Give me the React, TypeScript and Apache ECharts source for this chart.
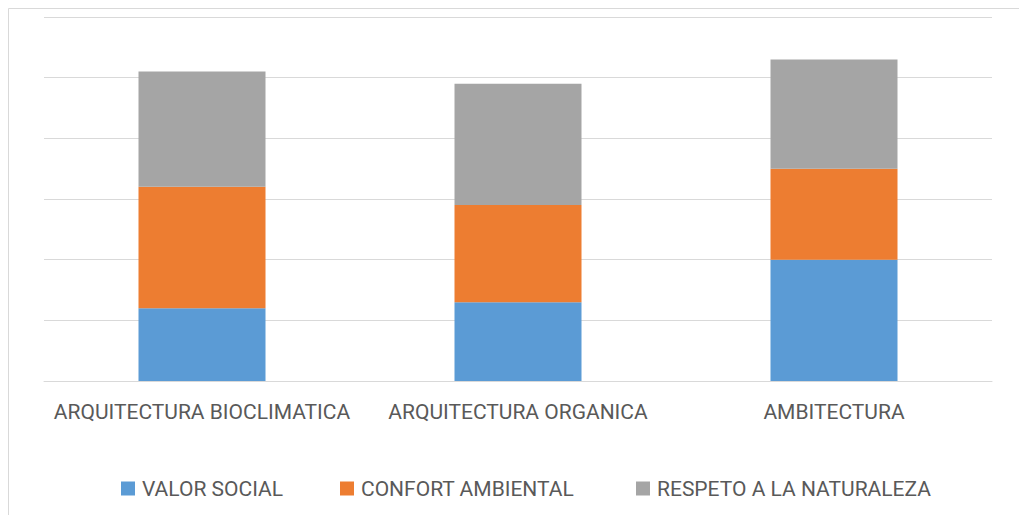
import React, { useEffect, useRef } from "react";
import * as echarts from "echarts";

const categories = ["ARQUITECTURA BIOCLIMATICA", "ARQUITECTURA ORGANICA", "AMBITECTURA"];
const valorSocial = [1.2, 1.3, 2.0];
const confortAmbiental = [2.0, 1.6, 1.5];
const respetoNaturaleza = [1.9, 2.0, 1.8];
const seriesNames = ["VALOR SOCIAL", "CONFORT AMBIENTAL", "RESPETO A LA NATURALEZA"];
const colors = ["#5B9BD5", "#ED7D31", "#A5A5A5"];

const FONT = "Roboto";
const TEXT_COLOR = "#595959";
const FS = 21;

export default function App() {
  const ref = useRef<HTMLDivElement>(null);
  useEffect(() => {
    if (!ref.current) return;
    const chart = echarts.init(ref.current, null, { renderer: "svg" });
    const values = [valorSocial, confortAmbiental, respetoNaturaleza];
    const legendLefts = [121, 340, 636];
    chart.setOption({
      animation: false,
      backgroundColor: "#ffffff",
      textStyle: { fontFamily: FONT },
      grid: { left: 44, right: 27, top: 17, bottom: 134, containLabel: false },
      legend: seriesNames.map((n, i) => ({
        data: [n],
        left: legendLefts[i],
        top: 478,
        padding: 0,
        itemWidth: 14,
        itemHeight: 14,
        itemGap: 0,
        icon: "rect",
        textStyle: { color: TEXT_COLOR, fontSize: FS, fontFamily: FONT, lineHeight: 14, padding: [1, 0, 0, 2] },
      })),
      xAxis: {
        type: "category",
        data: categories,
        axisLine: { lineStyle: { color: "#D9D9D9", width: 1 } },
        axisTick: { show: false },
        axisLabel: { color: TEXT_COLOR, fontSize: FS, fontFamily: FONT, margin: 20, interval: 0 },
      },
      yAxis: {
        type: "value",
        min: 0,
        max: 6,
        interval: 1,
        axisLabel: { show: false },
        axisLine: { show: false },
        axisTick: { show: false },
        splitLine: { lineStyle: { color: "#D9D9D9", width: 1 } },
      },
      graphic: [
        {
          type: "rect",
          shape: { x: 8.5, y: 8.5, width: 1030, height: 530 },
          style: { fill: "none", stroke: "#D9D9D9", lineWidth: 1 },
          silent: true,
        },
      ],
      series: seriesNames.map((n, i) => ({
        name: n,
        type: "bar",
        stack: "total",
        barWidth: 127,
        data: values[i],
        itemStyle: { color: colors[i] },
      })),
    });
    return () => chart.dispose();
  }, []);
  return (
    <div
      ref={ref}
      style={{ position: "absolute", left: 0, top: 0, width: 1019, height: 515 }}
    />
  );
}
